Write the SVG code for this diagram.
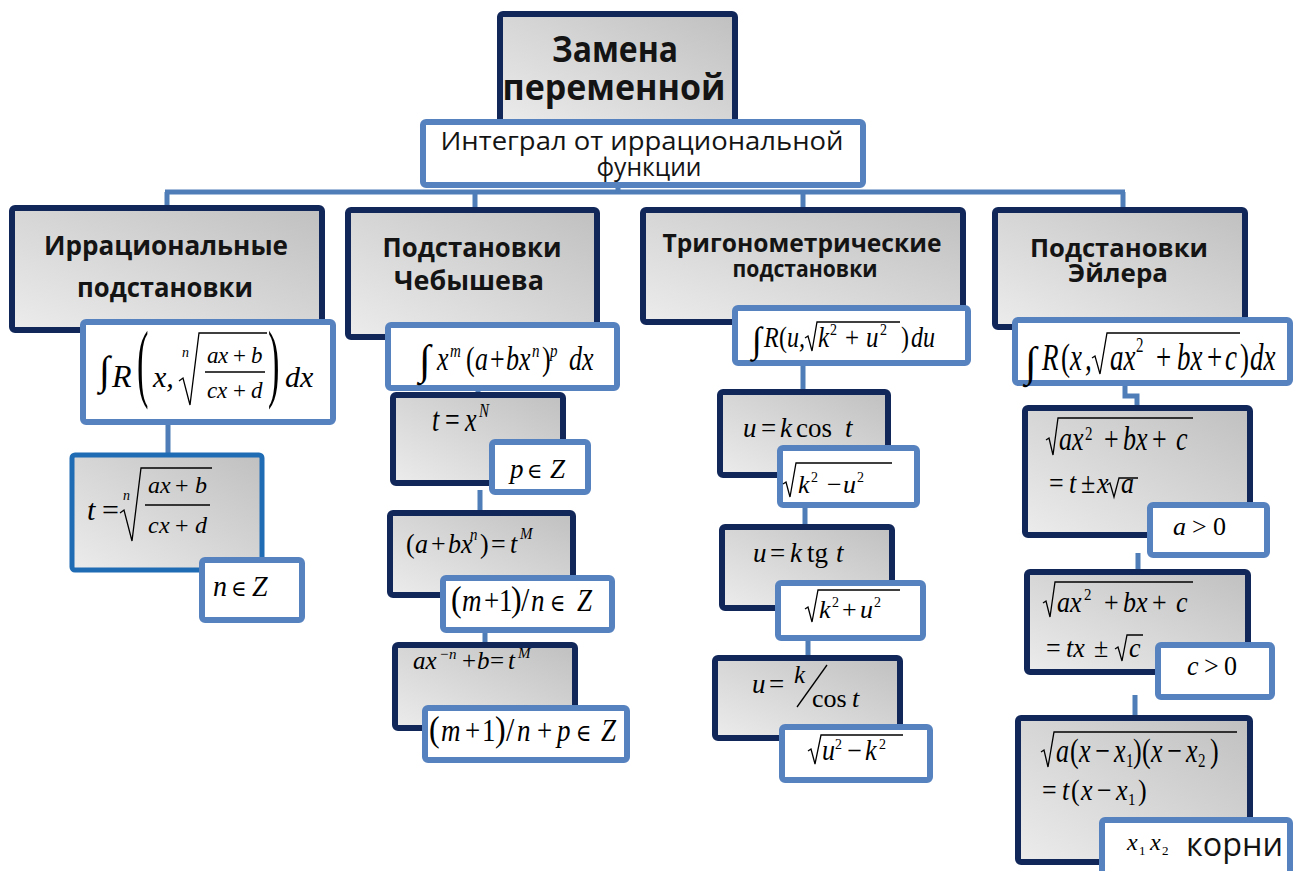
<svg xmlns="http://www.w3.org/2000/svg" width="1293" height="871" viewBox="0 0 1293 871">
<defs>
<linearGradient id="g" x1="0" y1="1" x2="1" y2="0">
<stop offset="0" stop-color="#ececec"/>
<stop offset="1" stop-color="#c0c0c0"/>
</linearGradient>
<style>
.hb{fill:url(#g);stroke:#11275a;stroke-width:6}
.sb{fill:url(#g);stroke:#1f6cb4;stroke-width:5}
.lb{fill:#fff;stroke:#5682bf;stroke-width:6}
.con{stroke:#4f7db7;stroke-width:5;fill:none}
.h{font-family:"Open Sans","DejaVu Sans",sans-serif;font-weight:bold;fill:#141414;text-anchor:middle}
.t{font-family:"Open Sans","DejaVu Sans",sans-serif;fill:#141414}
.m{font-family:"Liberation Serif","Times New Roman",serif;font-style:italic;fill:#000}
.n{font-style:normal}
.el{font-family:"DejaVu Serif","Liberation Serif",serif;font-style:normal;font-size:21px}
.rad{fill:none;stroke:#000;stroke-width:1.3}
</style>
</defs>
<rect width="1293" height="871" fill="#fff"/>

<g id="connectors" class="con">
<path d="M165 192 H1125"/>
<path d="M167 192 V211"/>
<path d="M475 192 V213"/>
<path d="M803 192 V213"/>
<path d="M1123 192 V213"/>
<path d="M618 184 V192"/>
<path d="M168 420 V458"/>
<path d="M478 386 V398"/>
<path d="M480 490 V516"/>
<path d="M485 628 V648"/>
<path d="M803 361 V395"/>
<path d="M805 503 V530"/>
<path d="M808 636 V661"/>
<path d="M1125 381 V396 H1137 V411"/>
<path d="M1138 553 V575"/>
<path d="M1135 695 V721"/>
</g>

<g id="title">
<rect class="hb" x="500" y="14" width="235" height="112" rx="3"/>
<text class="h" x="615" y="62" font-size="36" textLength="126" lengthAdjust="spacingAndGlyphs">Замена</text>
<text class="h" x="614" y="100" font-size="36" textLength="223" lengthAdjust="spacingAndGlyphs">переменной</text>
</g>

<g id="integral">
<rect class="lb" x="423" y="122" width="440" height="63" rx="3"/>
<text class="t" x="642" y="150" font-size="25" text-anchor="middle" textLength="403" lengthAdjust="spacingAndGlyphs">Интеграл  от иррациональной</text>
<text class="t" x="649" y="176" font-size="25" text-anchor="middle" textLength="105" lengthAdjust="spacingAndGlyphs">функции</text>
</g>

<!-- Column 1 -->
<g id="irr-header">
<rect class="hb" x="12" y="208" width="310" height="122" rx="3"/>
<text class="h" x="166" y="255" font-size="27" textLength="244" lengthAdjust="spacingAndGlyphs">Иррациональные</text>
<text class="h" x="165" y="297" font-size="27" textLength="176" lengthAdjust="spacingAndGlyphs">подстановки</text>
</g>
<g id="irr-formula">
<rect class="lb" x="83" y="322" width="250" height="100" rx="3"/>
<text class="m n" x="99" y="384" font-size="40">∫</text>
<text class="m" x="112" y="387" font-size="32">R</text>
<text class="m n" font-size="86" transform="translate(137,391) scale(0.4,1)">(</text>
<text class="m" x="153" y="387" font-size="30">x,</text>
<text class="m" x="182" y="357" font-size="14">n</text>
<path class="rad" d="M179 381 L183 378 L190 405 L199 333 H267"/>
<path class="rad" d="M205 372 H265"/>
<text class="m" y="363" font-size="23"><tspan x="207">a</tspan><tspan x="218">x</tspan><tspan class="n" x="233">+</tspan><tspan x="251">b</tspan></text>
<text class="m" y="398" font-size="23"><tspan x="207">c</tspan><tspan x="217">x</tspan><tspan class="n" x="233">+</tspan><tspan x="251">d</tspan></text>
<text class="m n" font-size="86" transform="translate(268,391) scale(0.4,1)">)</text>
<text class="m" x="285" y="387" font-size="30">dx</text>
</g>
<g id="irr-sub">
<rect class="sb" x="72" y="455" width="190" height="115" rx="3"/>
<text class="m" y="520" font-size="30"><tspan x="87">t</tspan><tspan class="n" x="102">=</tspan></text>
<text class="m" x="123" y="500" font-size="14">n</text>
<path class="rad" d="M120 513 L124 510 L132 541 L141 468 H212"/>
<path class="rad" d="M145 505 H210"/>
<text class="m" y="493" font-size="24"><tspan x="148">a</tspan><tspan x="160">x</tspan><tspan class="n" x="175">+</tspan><tspan x="195">b</tspan></text>
<text class="m" y="533" font-size="24"><tspan x="148">c</tspan><tspan x="159">x</tspan><tspan class="n" x="175">+</tspan><tspan x="195">d</tspan></text>
</g>
<g id="irr-cond">
<rect class="lb" x="202" y="560" width="100" height="60" rx="3"/>
<text class="m" y="596" font-size="28" transform="matrix(1 0 0 1.05 0 -29.8)"><tspan x="213">n</tspan><tspan class="el" x="231">∈</tspan><tspan x="252">Z</tspan></text>
</g>

<!-- Column 2 -->
<g id="cheb-header">
<rect class="hb" x="348" y="210" width="249" height="127" rx="3"/>
<text class="h" x="472" y="257" font-size="27" textLength="179" lengthAdjust="spacingAndGlyphs">Подстановки</text>
<text class="h" x="469" y="290" font-size="27" textLength="150" lengthAdjust="spacingAndGlyphs">Чебышева</text>
</g>
<g id="cheb-formula">
<rect class="lb" x="388" y="325" width="229" height="63" rx="3"/>
<text class="m n" x="419" y="374" font-size="42">∫</text>
<text class="m" y="370" font-size="26" transform="matrix(1 0 0 1.3 0 -111)"><tspan x="437">x</tspan><tspan x="450" y="360" font-size="15">m</tspan><tspan class="n" x="466" y="370">(</tspan><tspan x="475">a</tspan><tspan class="n" x="490">+</tspan><tspan x="506">bx</tspan><tspan x="532" y="360" font-size="15">n</tspan><tspan class="n" x="542" y="370">)</tspan><tspan x="550" y="360" font-size="15">p</tspan><tspan x="569" y="370">dx</tspan></text>
</g>
<g id="cheb-1">
<rect class="hb" x="393" y="395" width="170" height="88" rx="3"/>
<text class="m" y="431" font-size="26" transform="matrix(1 0 0 1.3 0 -129.3)"><tspan x="432">t</tspan><tspan class="n" x="445">=</tspan><tspan x="465">x</tspan><tspan x="479" y="420" font-size="15">N</tspan></text>
</g>
<g id="cheb-1c">
<rect class="lb" x="492" y="442" width="96" height="50" rx="3"/>
<text class="m" y="478" font-size="27"><tspan x="510">p</tspan><tspan class="el" x="527">∈</tspan><tspan x="550">Z</tspan></text>
</g>
<g id="cheb-2">
<rect class="hb" x="390" y="513" width="183" height="82" rx="3"/>
<text class="m" y="553" font-size="26" transform="matrix(1 0 0 1.05 0 -27.65)"><tspan class="n" x="406">(</tspan><tspan x="415">a</tspan><tspan class="n" x="431">+</tspan><tspan x="448">bx</tspan><tspan x="470" y="541" font-size="15">n</tspan><tspan class="n" x="480" y="553">)</tspan><tspan class="n" x="491">=</tspan><tspan x="510">t</tspan><tspan x="520" y="540" font-size="15">M</tspan></text>
</g>
<g id="cheb-2c">
<rect class="lb" x="443" y="578" width="169" height="52" rx="3"/>
<text class="m" y="611" font-size="27" transform="matrix(1 0 0 1.15 0 -91.65)"><tspan class="n" x="451" font-size="32">(</tspan><tspan x="462">m</tspan><tspan class="n" x="484">+</tspan><tspan class="n" x="499">1</tspan><tspan class="n" x="511" font-size="32">)</tspan><tspan class="n" x="521" font-size="30">/</tspan><tspan x="531">n</tspan><tspan class="el" x="550">∈</tspan><tspan x="577">Z</tspan></text>
</g>
<g id="cheb-3">
<rect class="hb" x="395" y="645" width="180" height="83" rx="3"/>
<text class="m" y="669" font-size="25"><tspan x="413">ax</tspan><tspan x="439" y="659" font-size="15">−n</tspan><tspan class="n" x="462" y="669">+</tspan><tspan x="477">b</tspan><tspan class="n" x="490">=</tspan><tspan x="508">t</tspan><tspan x="518" y="658" font-size="15">M</tspan></text>
</g>
<g id="cheb-3c">
<rect class="lb" x="425" y="708" width="202" height="52" rx="3"/>
<text class="m" y="741" font-size="27" transform="matrix(1 0 0 1.15 0 -111.15)"><tspan class="n" x="429" font-size="32">(</tspan><tspan x="441">m</tspan><tspan class="n" x="465">+</tspan><tspan class="n" x="482">1</tspan><tspan class="n" x="495" font-size="32">)</tspan><tspan class="n" x="506" font-size="30">/</tspan><tspan x="517">n</tspan><tspan class="n" x="537">+</tspan><tspan x="557">p</tspan><tspan class="el" x="576">∈</tspan><tspan x="601">Z</tspan></text>
</g>

<!-- Column 3 -->
<g id="trig-header">
<rect class="hb" x="643" y="210" width="320" height="112" rx="3"/>
<text class="h" x="802" y="252" font-size="25" textLength="279" lengthAdjust="spacingAndGlyphs">Тригонометрические</text>
<text class="h" x="805" y="277" font-size="23" textLength="145" lengthAdjust="spacingAndGlyphs">подстановки</text>
</g>
<g id="trig-formula">
<rect class="lb" x="735" y="308" width="233" height="55" rx="3"/>
<text class="m n" x="752" y="352" font-size="36">∫</text>
<path class="rad" d="M805 338 L808 336 L812 351 L817 322 H900"/>
<g transform="matrix(1 0 0 1.2 0 -69.4)">
<text class="m" y="347" font-size="24"><tspan x="764">R</tspan><tspan class="n" x="779">(</tspan><tspan x="787">u</tspan><tspan x="799">,</tspan></text>
<text class="m" y="347" font-size="25"><tspan x="818">k</tspan><tspan class="n" x="830" y="337" font-size="14">2</tspan><tspan class="n" x="845" y="347">+</tspan><tspan x="866">u</tspan><tspan class="n" x="880" y="337" font-size="14">2</tspan></text>
<text class="m" y="347" font-size="24"><tspan class="n" x="901">)</tspan><tspan x="911">du</tspan></text>
</g>
</g>
<g id="trig-1">
<rect class="hb" x="720" y="392" width="168" height="83" rx="3"/>
<text class="m" y="437" font-size="27" transform="matrix(1 0 0 1.05 0 -21.85)"><tspan x="743">u</tspan><tspan class="n" x="761">=</tspan><tspan x="780">k</tspan><tspan class="n" x="796">cos</tspan><tspan x="845">t</tspan></text>
</g>
<g id="trig-1c">
<rect class="lb" x="780" y="448" width="137" height="57" rx="3"/>
<path class="rad" d="M783 484 L786 482 L790 497 L796 463 H892"/>
<text class="m" y="493" font-size="26"><tspan x="798">k</tspan><tspan class="n" x="811" y="482" font-size="14">2</tspan><tspan class="n" x="827" y="493">−</tspan><tspan x="843">u</tspan><tspan class="n" x="857" y="482" font-size="14">2</tspan></text>
</g>
<g id="trig-2">
<rect class="hb" x="722" y="527" width="170" height="81" rx="3"/>
<text class="m" y="562" font-size="27"><tspan x="753">u</tspan><tspan class="n" x="770">=</tspan><tspan x="790">k</tspan><tspan class="n" x="807">tg</tspan><tspan x="836">t</tspan></text>
</g>
<g id="trig-2c">
<rect class="lb" x="778" y="583" width="145" height="55" rx="3"/>
<path class="rad" d="M805 609 L808 607 L812 622 L818 590 H900"/>
<text class="m" y="618" font-size="26"><tspan x="819">k</tspan><tspan class="n" x="832" y="607" font-size="14">2</tspan><tspan class="n" x="842" y="618">+</tspan><tspan x="860">u</tspan><tspan class="n" x="874" y="607" font-size="14">2</tspan></text>
</g>
<g id="trig-3">
<rect class="hb" x="715" y="658" width="185" height="80" rx="3"/>
<path class="rad" d="M797 707 L827 665"/>
<text class="m" y="693" font-size="27"><tspan x="752">u</tspan><tspan class="n" x="769">=</tspan></text>
<text class="m" x="794" y="683" font-size="25">k</text>
<text class="m" y="707" font-size="26"><tspan class="n" x="812">cos</tspan><tspan x="852">t</tspan></text>
</g>
<g id="trig-3c">
<rect class="lb" x="782" y="727" width="148" height="53" rx="3"/>
<path class="rad" d="M808 751 L811 749 L815 764 L821 735 H903"/>
<text class="m" y="760" font-size="26" transform="matrix(1 0 0 1.1 0 -76)"><tspan x="822">u</tspan><tspan class="n" x="835" y="750" font-size="14">2</tspan><tspan class="n" x="847" y="760">−</tspan><tspan x="865">k</tspan><tspan class="n" x="879" y="750" font-size="14">2</tspan></text>
</g>

<!-- Column 4 -->
<g id="euler-header">
<rect class="hb" x="995" y="210" width="250" height="117" rx="3"/>
<text class="h" x="1119" y="257" font-size="25" textLength="178" lengthAdjust="spacingAndGlyphs">Подстановки</text>
<text class="h" x="1118" y="282" font-size="25" textLength="100" lengthAdjust="spacingAndGlyphs">Эйлера</text>
</g>
<g id="euler-formula">
<rect class="lb" x="1015" y="320" width="275" height="63" rx="3"/>
<text class="m n" x="1025" y="376" font-size="42">∫</text>
<path class="rad" d="M1092 358 L1095 356 L1100 374 L1107 333 H1240"/>
<g transform="matrix(1 0 0 1.4 0 -148)">
<text class="m" y="370" font-size="27"><tspan x="1042">R</tspan><tspan class="n" x="1061">(</tspan><tspan x="1070">x</tspan><tspan x="1085">,</tspan></text>
<text class="m" y="370" font-size="27"><tspan x="1110">ax</tspan><tspan class="n" x="1136" y="357" font-size="15">2</tspan><tspan class="n" x="1156" y="370">+</tspan><tspan x="1177">bx</tspan><tspan class="n" x="1207">+</tspan><tspan x="1225">c</tspan></text>
<text class="m" y="370" font-size="27"><tspan class="n" x="1240">)</tspan><tspan x="1250">dx</tspan></text>
</g>
</g>
<g id="euler-1">
<rect class="hb" x="1025" y="408" width="225" height="127" rx="3"/>
<path class="rad" d="M1046 440 L1049 438 L1053 455 L1058 418 H1193"/>
<text class="m" y="450" font-size="26" transform="matrix(1 0 0 1.3 0 -135)"><tspan x="1059">ax</tspan><tspan class="n" x="1085" y="442" font-size="15">2</tspan><tspan class="n" x="1104" y="450">+</tspan><tspan x="1123">bx</tspan><tspan class="n" x="1152">+</tspan><tspan x="1176">c</tspan></text>
<path class="rad" d="M1107 485 L1110 483 L1114 497 L1119 478 H1138"/>
<text class="m" y="493" font-size="26" transform="matrix(1 0 0 1.1 0 -49.3)"><tspan class="n" x="1049">=</tspan><tspan x="1069">t</tspan><tspan class="n" x="1081">±</tspan><tspan x="1097">x</tspan><tspan x="1121">a</tspan></text>
</g>
<g id="euler-1c">
<rect class="lb" x="1150" y="505" width="117" height="50" rx="3"/>
<text class="m" y="535" font-size="26"><tspan x="1173">a</tspan><tspan class="n" x="1192">&gt;</tspan><tspan class="n" x="1213">0</tspan></text>
</g>
<g id="euler-2">
<rect class="hb" x="1027" y="572" width="221" height="100" rx="3"/>
<path class="rad" d="M1043 603 L1046 601 L1050 617 L1055 582 H1193"/>
<text class="m" y="612" font-size="26" transform="matrix(1 0 0 1.15 0 -91.8)"><tspan x="1057">ax</tspan><tspan class="n" x="1084" y="602" font-size="15">2</tspan><tspan class="n" x="1104" y="612">+</tspan><tspan x="1123">bx</tspan><tspan class="n" x="1152">+</tspan><tspan x="1176">c</tspan></text>
<path class="rad" d="M1115 649 L1118 647 L1122 661 L1127 635 H1143"/>
<text class="m" y="657" font-size="26" transform="matrix(1 0 0 1.05 0 -32.85)"><tspan class="n" x="1046">=</tspan><tspan x="1066">tx</tspan><tspan class="n" x="1094">±</tspan><tspan x="1129">c</tspan></text>
</g>
<g id="euler-2c">
<rect class="lb" x="1158" y="645" width="114" height="52" rx="3"/>
<text class="m" y="675" font-size="26" transform="matrix(1 0 0 1.05 0 -33.75)"><tspan x="1187">c</tspan><tspan class="n" x="1204">&gt;</tspan><tspan class="n" x="1224">0</tspan></text>
</g>
<g id="euler-3">
<rect class="hb" x="1018" y="718" width="232" height="144" rx="3"/>
<path class="rad" d="M1041 752 L1044 750 L1048 767 L1054 732 H1237"/>
<text class="m" y="762" font-size="26" transform="matrix(1 0 0 1.3 0 -228.6)"><tspan x="1056">a</tspan><tspan class="n" x="1070">(</tspan><tspan x="1079">x</tspan><tspan class="n" x="1095">−</tspan><tspan x="1114">x</tspan><tspan class="n" x="1126" y="766" font-size="15">1</tspan><tspan class="n" x="1133" y="762">)</tspan><tspan class="n" x="1142">(</tspan><tspan x="1151">x</tspan><tspan class="n" x="1167">−</tspan><tspan x="1186">x</tspan><tspan class="n" x="1198" y="766" font-size="15">2</tspan><tspan class="n" x="1210" y="762">)</tspan></text>
<text class="m" y="800" font-size="26" transform="matrix(1 0 0 1.15 0 -120)"><tspan class="n" x="1042">=</tspan><tspan x="1062">t</tspan><tspan class="n" x="1071">(</tspan><tspan x="1081">x</tspan><tspan class="n" x="1097">−</tspan><tspan x="1116">x</tspan><tspan class="n" x="1128" y="804" font-size="15">1</tspan><tspan class="n" x="1138" y="800">)</tspan></text>
</g>
<g id="euler-3c">
<rect class="lb" x="1102" y="820" width="188" height="56" rx="3"/>
<text class="m" y="850" font-size="24"><tspan x="1127">x</tspan><tspan class="n" x="1139" y="855" font-size="13">1</tspan><tspan x="1150" y="850">x</tspan><tspan class="n" x="1162" y="855" font-size="13">2</tspan></text>
<text class="t" x="1186" y="856" font-size="32" textLength="97" lengthAdjust="spacingAndGlyphs">корни</text>
</g>
</svg>
